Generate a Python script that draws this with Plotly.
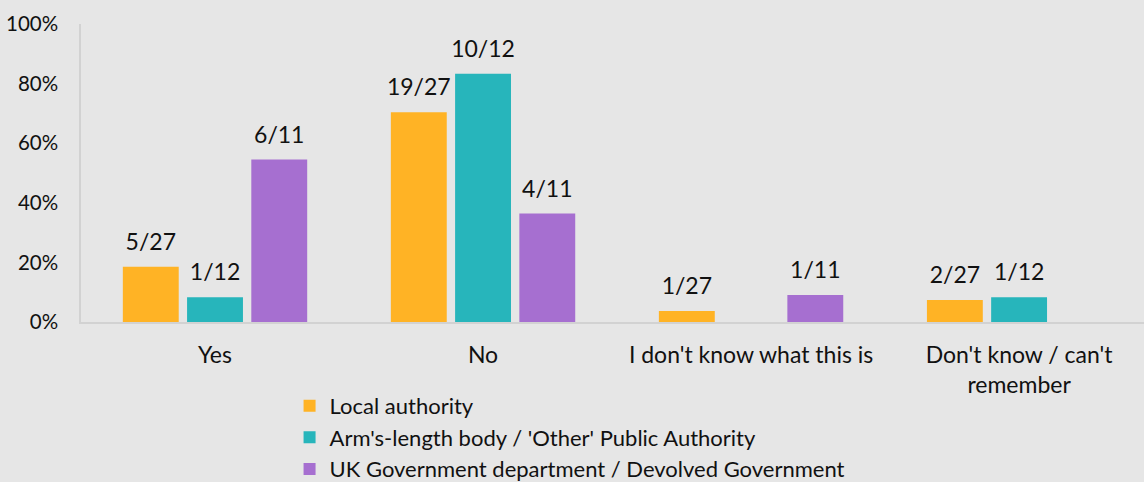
import plotly.graph_objects as go

categories = ["Yes", "No", "I don't know what this is", "Don't know / can't<br>remember"]
series_names = [
    "Local authority",
    "Arm's-length body / 'Other' Public Authority",
    "UK Government department / Devolved Government",
]
local_vals = [18.5, 70.4, 3.7, 7.4]
local_labels = ["5/27", "19/27", "1/27", "2/27"]
arms_vals = [8.3, 83.3, 0, 8.3]
arms_labels = ["1/12", "10/12", "", "1/12"]
ukgov_vals = [54.5, 36.4, 9.1, 0]
ukgov_labels = ["6/11", "4/11", "1/11", ""]
colors = ["#FFB325", "#27B5BB", "#A66FD0"]
y_tickvals = [0, 20, 40, 60, 80, 100]
y_ticktext = ["0%", "20%", "40%", "60%", "80%", "100%"]

FONT = "Lato"
FS = 23
LABEL_PAD = 3.0  # extra space (axis units) between bar top and its label

fig = go.Figure()
for i, (name, vals, labels, col) in enumerate(zip(
        series_names,
        [local_vals, arms_vals, ukgov_vals],
        [local_labels, arms_labels, ukgov_labels],
        colors)):
    fig.add_trace(go.Bar(
        x=categories, y=vals, name=name, marker_color=col,
        marker_line_width=0, offsetgroup=str(i), hoverinfo="y",
    ))
    # invisible spacer carrying the label a little above the bar
    fig.add_trace(go.Bar(
        x=categories, y=[LABEL_PAD] * len(vals), base=vals,
        offsetgroup=str(i), marker_color="rgba(0,0,0,0)",
        marker_line_width=0, showlegend=False, hoverinfo="skip",
        text=labels, textposition="outside", cliponaxis=False,
        constraintext="none",
        textfont=dict(size=FS, color="#111111", family=FONT),
    ))

fig.update_layout(
    width=1144, height=482,
    paper_bgcolor="#E6E6E6", plot_bgcolor="#E6E6E6",
    margin=dict(l=81, r=0, t=24, b=160, autoexpand=False),
    barmode="group", bargap=0.281, bargroupgap=0.13,
    font=dict(family=FONT, size=FS, color="#111111"),
    showlegend=True,
    legend=dict(
        orientation="v", x=0.1962, xanchor="left", y=-0.211, yanchor="top",
        bgcolor="rgba(0,0,0,0)", font=dict(size=22, family=FONT),
        itemwidth=30, tracegroupgap=0,
    ),
)
fig.update_xaxes(
    range=[-0.5, 3.466], showline=True, linecolor="#D2D2D2", linewidth=1.5,
    ticks="", showgrid=False, tickfont=dict(size=FS, family=FONT),
    ticklabelstandoff=12, automargin=False,
)
fig.update_yaxes(
    range=[0, 100], tickvals=y_tickvals, ticktext=y_ticktext, showline=True,
    linecolor="#D2D2D2", linewidth=1.5, ticks="", showgrid=False,
    zeroline=False, tickfont=dict(size=20.5, family=FONT),
    ticklabelstandoff=17, automargin=False,
)

fig.write_html("out.html")
